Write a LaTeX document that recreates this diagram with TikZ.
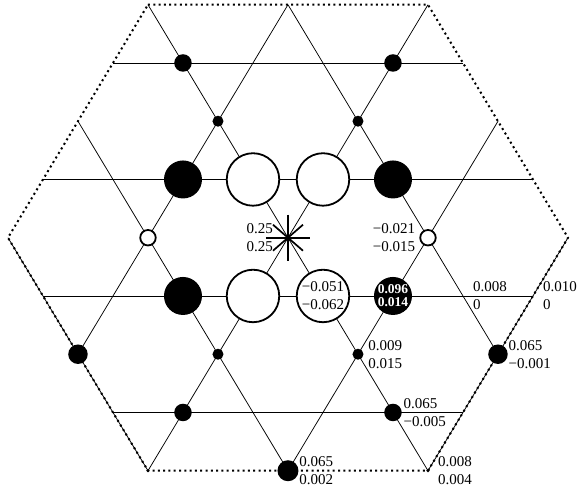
\documentclass[tikz,border=0pt]{standalone}
\usepackage{fontspec}
\setmainfont{Liberation Serif}
\usepackage{tikz}
\usetikzlibrary{positioning}

\begin{document}
\begin{tikzpicture}[x=70pt, y=58.25pt,
	grid/.style={line width=0.75pt},
	rim/.style={line width=2pt, dash pattern=on 2pt off 3.3pt},
	ray/.style={line width=1.7pt},
	whitebig/.style={circle, draw=black, fill=white, line width=1.8pt, minimum size=52.5pt, inner sep=0pt},
	blackbig/.style={circle, fill=black, minimum size=38pt, inner sep=0pt},
	whitesmall/.style={circle, draw=black, fill=white, line width=1.8pt, minimum size=15.5pt, inner sep=0pt},
	blackdot/.style={circle, fill=black, minimum size=#1, inner sep=0pt},
	blackdot/.default=11pt,
	val/.style={font=\fontsize{15}{18}\selectfont, align=left, inner sep=0pt},
	valin/.style={font=\fontsize{13.5}{13}\selectfont\bfseries, text=white, align=center, inner sep=0pt}]
	\useasboundingbox (-4.114,-4.4) rectangle (4.143,4.081);
	\coordinate(h1) at (-2,4);
	\coordinate(h2) at (2,4);
	\coordinate(h3) at (4,0);
	\coordinate(h4) at (2,-4);
	\coordinate(h5) at (-2,-4);
	\coordinate(h6) at (-4,0);
	\coordinate(top) at (0,4);
	\coordinate(bot) at (0,-4);
	\coordinate(e1) at (-3,2);
	\coordinate(e2) at (3,2);
	\coordinate(e3) at (3,-2);
	\coordinate(e4) at (-3,-2);
	\coordinate(a1) at (-2.5,3);
	\coordinate(b1) at (2.5,3);
	\coordinate(a2) at (-3.5,1);
	\coordinate(b2) at (3.5,1);
	\coordinate(a3) at (-3.5,-1);
	\coordinate(b3) at (3.5,-1);
	\coordinate(a4) at (-2.5,-3);
	\coordinate(b4) at (2.5,-3);
	\coordinate(x1) at (2.5,-1);
	\coordinate(s0) at (0,0);
	\draw[grid] (a1) -- (b1);
	\draw[grid] (a2) -- (b2);
	\draw[grid] (a3) -- (b3);
	\draw[grid] (a4) -- (b4);
	\draw[grid] (h5) -- (h2);
	\draw[grid] (h1) -- (h4);
	\draw[grid] (top) -- (e3);
	\draw[grid] (top) -- (e4);
	\draw[grid] (e2) -- (bot);
	\draw[grid] (e1) -- (bot);
	\draw[grid] (h6) -- (h5);
	\draw[grid] (h3) -- (h4);
	\draw[rim] (h1) -- (h2) -- (h3) -- (h4) -- (h5) -- (h6) -- cycle;
	\draw[ray] ([yshift=23pt]s0) -- ([yshift=-23pt]s0);
	\draw[ray] ([xshift=-22pt]s0) -- ([xshift=22pt]s0);
	\draw[ray] ([shift={(-15pt,13pt)}]s0) -- ([shift={(15pt,-13pt)}]s0);
	\draw[ray] ([shift={(-15pt,-13pt)}]s0) -- ([shift={(15pt,13pt)}]s0);
	\node[blackdot=17.5pt](m1) at (-1.5,3){};
	\node[blackdot=17.5pt](m2) at (1.5,3){};
	\node[blackdot](d1) at (-1,2){};
	\node[blackdot](d2) at (1,2){};
	\node[blackbig](k1) at (-1.5,1){};
	\node[whitebig](w1) at (-0.5,1){};
	\node[whitebig](w2) at (0.5,1){};
	\node[blackbig](k2) at (1.5,1){};
	\node[whitesmall](o1) at (-2,0){};
	\node[whitesmall](o2) at (2,0){};
	\node[blackbig](k3) at (-1.5,-1){};
	\node[whitebig](w3) at (-0.5,-1){};
	\node[whitebig](w4) at (0.5,-1){};
	\node[blackbig](k4) at (1.5,-1){};
	\node[blackdot=19.5pt](f1) at (-3,-2){};
	\node[blackdot](d3) at (-1,-2){};
	\node[blackdot](d4) at (1,-2){};
	\node[blackdot=19.5pt](f2) at (3,-2){};
	\node[blackdot=17.5pt](m3) at (-1.5,-3){};
	\node[blackdot=17.5pt](m4) at (1.5,-3){};
	\node[blackdot=21pt](c0) at (bot){};
	\node[blackdot=3.5pt](c1) at (h5){};
	\node[blackdot=3.5pt](c2) at (h4){};
	\node[val, align=right, left=15pt of s0](t1){0.25\\0.25};
	\node[val, align=right, left=4pt of o2](t2){−0.021\\−0.015};
	\node[val, align=center](t3) at (w4){−0.051\\−0.062};
	\node[valin](t4) at (k4){0.096\\0.014};
	\node[val, right=10pt of x1](t5){0.008\\0};
	\node[val, right=10pt of b3](t6){0.010\\0};
	\node[val, right=4.5pt of d4](t7){0.009\\0.015};
	\node[val, right=0.5pt of f2](t8){0.065\\−0.001};
	\node[val, right=1.5pt of m4](t9){0.065\\−0.005};
	\node[val, right=0.5pt of c0](t10){0.065\\0.002};
	\node[val, right=10pt of h4](t11){0.008\\0.004};
\end{tikzpicture}
\end{document}
